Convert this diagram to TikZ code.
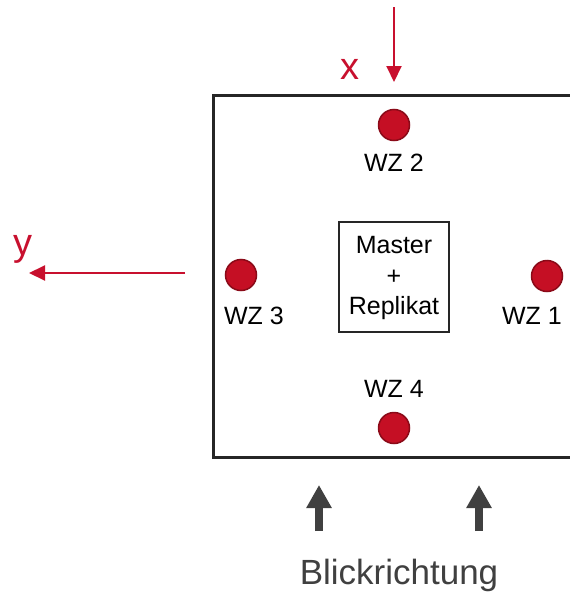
\documentclass[tikz,border=0pt]{standalone}
\usepackage{fontspec}
\setmainfont{Liberation Sans}
\usetikzlibrary{arrows.meta}
\definecolor{axisred}{HTML}{C8102E}
\definecolor{dotred}{HTML}{C50F24}
\definecolor{dotedge}{HTML}{8A0A18}
\definecolor{viewgray}{HTML}{404040}
\definecolor{frame}{HTML}{262626}
\tikzset{
  wz/.style={circle, fill=dotred, draw=dotedge, line width=1.5pt, minimum size=31pt, inner sep=0pt},
  wzlabel/.style={inner sep=0pt, font=\fontsize{25}{28}\selectfont},
  axis/.style={draw=axisred, line width=2pt, -{Triangle[length=16pt, width=15pt]}},
  axislabel/.style={inner sep=0pt, text=axisred, font=\fontsize{38}{40}\selectfont},
  view/.style={draw=viewgray, line width=8pt, -{Triangle[length=23pt, width=24pt]}},
}
\begin{document}
\begin{tikzpicture}[x=1pt, y=-1pt]
  \clip (0,0) rectangle (570,597);
  \fill[white] (0,0) rectangle (570,597);

  % tool plate (runs past the right edge)
  \draw[frame, line width=3pt] (620,95) -- (213,95) -- (213,457) -- (620,457);

  % reference part in the centre
  \node[draw=frame, line width=2pt, minimum width=110pt, minimum height=110pt, inner sep=0pt] (master) at (394,277) {};
  \node[wzlabel] (mtop) at (394,245) {Master};
  \node[wzlabel] (mplus) at (394,277) {+};
  \node[wzlabel] (mbot) at (394,308) {Replikat};

  % measuring positions
  \node[wz] (wz2) at (394,125) {};
  \node[wzlabel] (l2) at (394,163) {WZ 2};
  \node[wz] (wz1) at (547,276) {};
  \node[wzlabel] (l1) at (532,316) {WZ 1};
  \node[wz] (wz3) at (241,275) {};
  \node[wzlabel] (l3) at (254,316) {WZ 3};
  \node[wz] (wz4) at (394,428) {};
  \node[wzlabel] (l4) at (394,389) {WZ 4};

  % axes
  \coordinate (xs) at (394,7);
  \coordinate (xe) at (394,82);
  \draw[axis] (xs) -- (xe);
  \node[axislabel] (xl) at (350,69) {x};
  \coordinate (ys) at (185,273);
  \coordinate (ye) at (29,273);
  \draw[axis] (ys) -- (ye);
  \node[axislabel] (yl) at (23,249) {y};

  % viewing direction
  \coordinate (v1s) at (319,531);
  \coordinate (v1e) at (319,485);
  \coordinate (v2s) at (479,531);
  \coordinate (v2e) at (479,485);
  \draw[view] (v1s) -- (v1e);
  \draw[view] (v2s) -- (v2e);
  \node[inner sep=0pt, text=viewgray, font=\fontsize{35}{38}\selectfont] (blick) at (399,575) {Blickrichtung};
\end{tikzpicture}
\end{document}
